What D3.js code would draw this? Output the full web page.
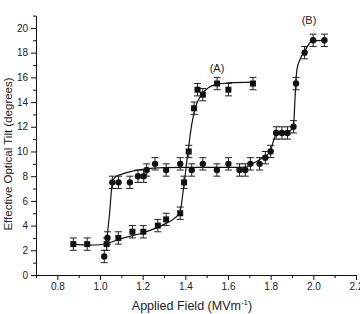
<!DOCTYPE html>
<html><head><meta charset="utf-8">
<script src="https://cdn.jsdelivr.net/npm/d3@7"></script>
<style>
html,body{margin:0;padding:0;background:#fff;}
text{font-family:Arial,"Liberation Sans",sans-serif;fill:#222;}
</style></head>
<body><svg id="c" width="360" height="314"></svg>
<script>
// Series A (squares)
const aX = [0.875,0.94,1.031,1.086,1.152,1.203,1.271,1.31,1.376,1.394,1.416,1.441,1.457,1.482,1.549,1.602,1.717];
const aY = [2.5,2.5,2.5,3.0,3.5,3.5,4.0,4.5,5.0,7.5,10.0,13.5,15.0,14.6,15.5,15.0,15.5];
// Series B (circles)
const bX = [1.02,1.035,1.058,1.087,1.14,1.178,1.205,1.219,1.258,1.31,1.376,1.43,1.482,1.548,1.602,1.654,1.681,1.705,1.748,1.775,1.80,1.826,1.853,1.879,1.907,1.919,1.959,1.999,2.052];
const bY = [1.5,3.0,7.5,7.5,7.5,8.0,8.0,8.5,9.0,8.5,9.0,8.5,9.0,8.5,9.0,8.5,8.5,9.0,9.0,9.5,10.0,11.5,11.5,11.5,12.0,15.5,18.0,19.0,19.0];
const errHalf = 0.5;
// Fit curves
const fitAX = [0.875,0.95,1.0,1.05,1.1,1.2,1.3,1.35,1.375,1.39,1.41,1.43,1.45,1.47,1.5,1.55,1.6,1.72];
const fitAY = [2.5,2.42,2.45,2.65,2.95,3.4,4.1,4.6,5.1,6.8,9.6,12.2,13.7,14.45,15.05,15.45,15.55,15.62];
const fitBX = [1.03,1.045,1.058,1.07,1.1,1.15,1.2,1.25,1.3,1.4,1.6,1.68,1.707,1.75,1.798,1.812,1.826,1.85,1.879,1.907,1.912,1.917,1.923,1.939,1.962,1.994,2.052];
const fitBY = [2.6,5.0,7.5,7.9,8.15,8.4,8.55,8.65,8.7,8.72,8.72,8.74,8.95,9.35,10.0,10.8,11.4,11.55,11.6,11.95,13.5,15.3,16.6,17.5,18.2,18.95,19.0];
const xTicks = [0.8,1.0,1.2,1.4,1.6,1.8,2.0,2.2];
const xMinor = [0.7,0.9,1.1,1.3,1.5,1.7,1.9,2.1];
const yTicks = [0,2,4,6,8,10,12,14,16,18,20];
const yMinor = [1,3,5,7,9,11,13,15,17,19,21];

const svg = d3.select("#c");
const x = d3.scaleLinear().domain([0.7,2.2]).range([36,356]);
const y = d3.scaleLinear().domain([0,21]).range([275,15.6]);

// axes
const gx = svg.append("g").attr("transform","translate(0,275)");
gx.call(d3.axisBottom(x).tickValues(xTicks).tickSize(5).tickSizeOuter(0).tickPadding(3).tickFormat(d3.format(".1f")));
const gxm = svg.append("g").attr("transform","translate(0,275)");
gxm.call(d3.axisBottom(x).tickValues(xMinor).tickSize(3).tickSizeOuter(0).tickFormat(""));
gxm.select(".domain").remove();
const gy = svg.append("g").attr("transform","translate(36,0)");
gy.call(d3.axisLeft(y).tickValues(yTicks).tickSize(5).tickSizeOuter(0).tickPadding(3));
const gym = svg.append("g").attr("transform","translate(36,0)");
gym.call(d3.axisLeft(y).tickValues(yMinor).tickSize(3).tickSizeOuter(0).tickFormat(""));
gym.select(".domain").remove();
svg.selectAll(".tick text").style("font-size","10px").style("font-family","Arial, 'Liberation Sans', sans-serif").attr("fill","#222");
svg.selectAll(".domain,.tick line").attr("stroke","#111").attr("stroke-width",1);

// fits
const line = d3.line().x(d=>x(d[0])).y(d=>y(d[1])).curve(d3.curveMonotoneX);
svg.append("path").attr("d",line(fitAX.map((v,i)=>[v,fitAY[i]]))).attr("fill","none").attr("stroke","#111").attr("stroke-width",1.2);
svg.append("path").attr("d",line(fitBX.map((v,i)=>[v,fitBY[i]]))).attr("fill","none").attr("stroke","#111").attr("stroke-width",1.2);

function errbars(xs, ys){
  const g = svg.append("g").attr("stroke","#222").attr("stroke-width",1);
  xs.forEach((v,i)=>{
    const cx=x(v), t=y(ys[i]+errHalf), b=y(ys[i]-errHalf);
    g.append("line").attr("x1",cx).attr("x2",cx).attr("y1",t).attr("y2",b);
    g.append("line").attr("x1",cx-3.5).attr("x2",cx+3.5).attr("y1",t).attr("y2",t);
    g.append("line").attr("x1",cx-3.5).attr("x2",cx+3.5).attr("y1",b).attr("y2",b);
  });
}
errbars(aX,aY); errbars(bX,bY);

svg.append("g").selectAll("rect").data(aX.map((v,i)=>[v,aY[i]])).join("rect")
  .attr("x",d=>x(d[0])-3).attr("y",d=>y(d[1])-3).attr("width",6).attr("height",6).attr("fill","#111");
svg.append("g").selectAll("circle").data(bX.map((v,i)=>[v,bY[i]])).join("circle")
  .attr("cx",d=>x(d[0])).attr("cy",d=>y(d[1])).attr("r",3.2).attr("fill","#111");

// annotations
svg.append("text").attr("x",217).attr("y",72).attr("text-anchor","middle").style("font-size","11px").text("(A)");
svg.append("text").attr("x",309).attr("y",24).attr("text-anchor","middle").style("font-size","11px").text("(B)");

// axis titles
const xt = svg.append("text").attr("x",192).attr("y",310).attr("text-anchor","middle").style("font-size","12.5px");
xt.append("tspan").text("Applied Field (MVm");
xt.append("tspan").attr("dy",-5).style("font-size","8px").text("-1");
xt.append("tspan").attr("dy",5).text(")");
svg.append("text").attr("transform","translate(12,154) rotate(-90)").attr("text-anchor","middle").style("font-size","11.5px").text("Effective Optical Tilt (degrees)");
</script></body></html>
